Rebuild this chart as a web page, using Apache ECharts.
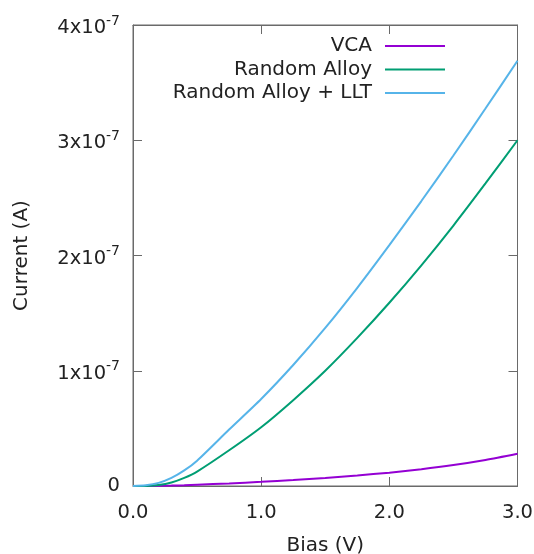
<!DOCTYPE html>
<html>
<head>
<meta charset="utf-8">
<script src="https://cdn.jsdelivr.net/npm/echarts@6/dist/echarts.min.js"></script>
<style>html,body{margin:0;padding:0;background:#fff}#c{width:534px;height:554px}</style>
</head>
<body>
<div id="c"></div>
<script>
// Bias (V)
const bias = [0, 0.1, 0.2, 0.3, 0.4, 0.5, 0.75, 1.0, 1.25, 1.5, 1.75, 2.0, 2.25, 2.5, 2.75, 3.0];
// Current in units of 1e-7 A
const vca = [0, 0.0005, 0.002, 0.004, 0.007, 0.011, 0.022, 0.036, 0.052, 0.07, 0.091, 0.116, 0.146, 0.182, 0.226, 0.28];
const randomAlloy = [0, 0.001, 0.008, 0.03, 0.07, 0.125, 0.31, 0.51, 0.745, 1.0, 1.285, 1.59, 1.915, 2.26, 2.625, 3.0];
const randomAlloyLLT = [0, 0.006, 0.027, 0.07, 0.135, 0.22, 0.49, 0.755, 1.05, 1.372, 1.72, 2.09, 2.4725, 2.8675, 3.275, 3.69];
const seriesNames = ['VCA', 'Random Alloy', 'Random Alloy + LLT'];
const colors = ['#9400d3', '#009e73', '#56b4e9'];

const FONT = 'DejaVu Sans';
const TXT = '#222';
const AX = '#6a6a6a';
const pairs = ys => bias.map((b, i) => [b, ys[i]]);

const tick = {show: true, inside: true, length: 9, lineStyle: {color: AX, width: 1}};
const line = {show: true, onZero: false, lineStyle: {color: AX, width: 1}};

const chart = echarts.init(document.getElementById('c'), null, {renderer: 'canvas'});
chart.setOption({
  animation: false,
  backgroundColor: '#fff',
  textStyle: {fontFamily: FONT, color: TXT},
  grid: {left: 133, top: 25, right: 16.5, bottom: 68, containLabel: false, outerBoundsMode: 'none',
         show: true, borderColor: AX, borderWidth: 1, backgroundColor: 'transparent'},
  legend: {
    orient: 'vertical', right: 89, top: 36, align: 'right', padding: 0,
    itemWidth: 60, itemHeight: 2, itemGap: 3.5, icon: 'rect',
    textStyle: {fontFamily: FONT, fontSize: 20, lineHeight: 20, color: TXT, padding: [0, 8, 0, 0]},
    data: seriesNames
  },
  xAxis: [{
    type: 'value', min: 0, max: 3, interval: 1,
    name: 'Bias (V)', nameLocation: 'middle', nameGap: 50,
    nameTextStyle: {fontFamily: FONT, fontSize: 20, color: TXT},
    axisLine: line, axisTick: tick,
    axisLabel: {fontFamily: FONT, fontSize: 19.5, color: TXT, margin: 17, formatter: v => v.toFixed(1)},
    splitLine: {show: false}
  }, {
    type: 'value', min: 0, max: 3, interval: 1, position: 'top',
    axisLine: line, axisTick: tick,
    axisLabel: {show: false}, splitLine: {show: false}
  }],
  yAxis: [{
    type: 'value', min: 0, max: 4, interval: 1,
    name: 'Current (A)', nameLocation: 'middle', nameGap: 101, nameRotate: 90,
    nameTextStyle: {fontFamily: FONT, fontSize: 20, color: TXT},
    axisLine: line, axisTick: tick,
    axisLabel: {
      margin: 13,
      formatter: v => v === 0 ? '{z|0}' : '{a|' + v + 'x10}{s|-7}',
      rich: {
        z: {fontFamily: FONT, fontSize: 19.5, color: TXT},
        a: {fontFamily: FONT, fontSize: 19.5, color: TXT, padding: [6, 0, 0, 0]},
        s: {fontFamily: FONT, fontSize: 14, color: TXT, padding: [0, 0, 8, 0]}
      }
    },
    splitLine: {show: false}
  }, {
    type: 'value', min: 0, max: 4, interval: 1, position: 'right',
    axisLine: line, axisTick: tick,
    axisLabel: {show: false}, splitLine: {show: false}
  }],
  series: [vca, randomAlloy, randomAlloyLLT].map((ys, i) => ({
    name: seriesNames[i], type: 'line', data: pairs(ys),
    xAxisIndex: 0, yAxisIndex: 0,
    smooth: 0.25, showSymbol: false, symbol: 'none',
    lineStyle: {width: 2, color: colors[i]}, itemStyle: {color: colors[i]}
  })).concat([{
    type: 'line', xAxisIndex: 1, yAxisIndex: 1, data: [], silent: true, symbol: 'none'
  }])
});
</script>
</body>
</html>
